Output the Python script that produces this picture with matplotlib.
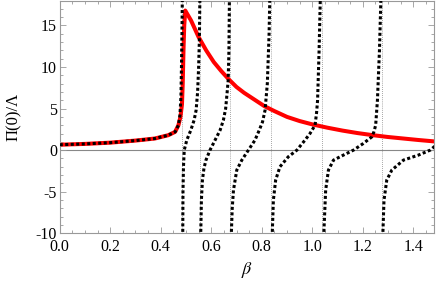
import matplotlib
matplotlib.use("Agg")
import matplotlib.pyplot as plt
from matplotlib.ticker import MultipleLocator, FormatStrFormatter

# ---- data ----
red_beta = [0.0, 0.1, 0.2, 0.3, 0.377, 0.43, 0.457, 0.470, 0.478, 0.484, 0.487, 0.490, 0.493, 0.497,
            0.52, 0.55, 0.58, 0.61, 0.64, 0.67, 0.70, 0.73, 0.77, 0.81, 0.85, 0.90, 0.95, 1.00,
            1.06, 1.12, 1.18, 1.24, 1.30, 1.36, 1.42, 1.483]
red_val = [0.65, 0.75, 0.9, 1.15, 1.4, 1.8, 2.2, 3.0, 4.0, 5.5, 8.0, 12.0, 15.0, 16.8,
           15.6, 13.6, 12.0, 10.6, 9.5, 8.5, 7.6, 6.9, 6.1, 5.3, 4.7, 4.0, 3.5, 3.1,
           2.7, 2.35, 2.05, 1.8, 1.58, 1.4, 1.22, 1.05]

branch_a_beta = [0.0, 0.1, 0.2, 0.3, 0.377, 0.43, 0.457, 0.470, 0.476, 0.480, 0.482, 0.484, 0.4855]
branch_a_val = [0.65, 0.75, 0.9, 1.15, 1.4, 1.8, 2.2, 3.0, 4.2, 6.5, 10.0, 14.0, 18.5]

branch_b_beta = [0.487, 0.488, 0.490, 0.493, 0.503, 0.519, 0.532, 0.540, 0.546, 0.550, 0.553, 0.555]
branch_b_val = [-10.5, -5.0, -2.0, 0.0, 1.2, 2.4, 3.6, 4.8, 7.0, 10.0, 13.3, 18.5]

branch_c_beta = [0.558, 0.561, 0.565, 0.571, 0.579, 0.595, 0.615, 0.635, 0.648, 0.657, 0.663, 0.667, 0.670, 0.672]
branch_c_val = [-10.5, -6.0, -3.6, -2.2, -1.2, 0.0, 1.2, 2.4, 3.6, 5.0, 7.0, 8.4, 12.0, 18.5]

branch_d_beta = [0.679, 0.683, 0.688, 0.701, 0.721, 0.747, 0.773, 0.790, 0.803, 0.813, 0.822, 0.829, 0.832]
branch_d_val = [-10.5, -7.0, -4.8, -2.4, -1.2, 0.0, 1.2, 2.4, 3.4, 4.8, 8.0, 14.0, 18.5]

branch_e_beta = [0.841, 0.846, 0.855, 0.872, 0.905, 0.939, 0.971, 0.991, 1.011, 1.017, 1.021, 1.027, 1.032]
branch_e_val = [-10.5, -6.0, -3.6, -2.0, -0.8, 0.0, 1.2, 2.0, 3.0, 4.5, 6.0, 12.0, 18.5]

branch_f_beta = [1.045, 1.053, 1.064, 1.084, 1.123, 1.163, 1.202, 1.236, 1.244, 1.251, 1.258, 1.266, 1.272]
branch_f_val = [-10.5, -4.8, -2.4, -1.2, -0.6, 0.0, 0.8, 1.6, 2.2, 3.0, 6.0, 12.0, 18.5]

branch_g_beta = [1.279, 1.284, 1.295, 1.315, 1.361, 1.420, 1.467, 1.49]
branch_g_val = [-10.5, -6.0, -3.6, -2.4, -1.2, -0.6, 0.0, 0.6]

poles = [0.486, 0.556, 0.674, 0.836, 1.037, 1.275]

x_ticks = [0.0, 0.2, 0.4, 0.6, 0.8, 1.0, 1.2, 1.4]
y_ticks = [-10, -5, 0, 5, 10, 15]

# ---- figure ----
plt.rcParams['font.family'] = ['Liberation Serif', 'DejaVu Serif']
plt.rcParams['mathtext.fontset'] = 'stix'

fig = plt.figure(figsize=(4.36, 2.81), dpi=100)
ax = fig.add_axes([0.137, 0.17, 0.859, 0.828])

ax.set_xlim(0, 1.483)
ax.set_ylim(-10, 18)

ax.axhline(0, color='#888888', lw=0.8, zorder=1)
for p in poles:
    ax.axvline(p, color='#555555', lw=0.5, linestyle=(0, (1, 2)), zorder=1)

branches = [(branch_a_beta, branch_a_val), (branch_b_beta, branch_b_val),
            (branch_c_beta, branch_c_val), (branch_d_beta, branch_d_val),
            (branch_e_beta, branch_e_val), (branch_f_beta, branch_f_val),
            (branch_g_beta, branch_g_val)]

ax.plot(red_beta, red_val, color='#ff0000', lw=2.9, zorder=2,
        solid_capstyle='butt', solid_joinstyle='round')
for bx, by in branches:
    ax.plot(bx, by, color='black', lw=2.2, linestyle=(0, (1, 0.8)),
            dash_capstyle='butt', zorder=3)

for s in ax.spines.values():
    s.set_color('#999999')
    s.set_linewidth(0.8)

ax.set_xticks(x_ticks)
ax.set_yticks(y_ticks)
ax.xaxis.set_major_formatter(FormatStrFormatter('%.1f'))
ax.yaxis.set_major_formatter(FormatStrFormatter('%d'))
ax.xaxis.set_minor_locator(MultipleLocator(0.05))
ax.yaxis.set_minor_locator(MultipleLocator(1))
ax.tick_params(which='both', direction='in', top=True, right=True, colors='#999999',
               labelcolor='black', labelsize=11.5, width=0.6)
ax.tick_params(which='major', length=4)
ax.tick_params(which='minor', length=2)
ax.tick_params(axis='x', pad=4)
ax.tick_params(axis='y', pad=2)

ax.set_xlabel(r'$\beta$', fontsize=13, labelpad=4)
ax.set_ylabel('Π(0)/Λ', fontsize=12, labelpad=10)

fig.savefig('out.png', dpi=100)
